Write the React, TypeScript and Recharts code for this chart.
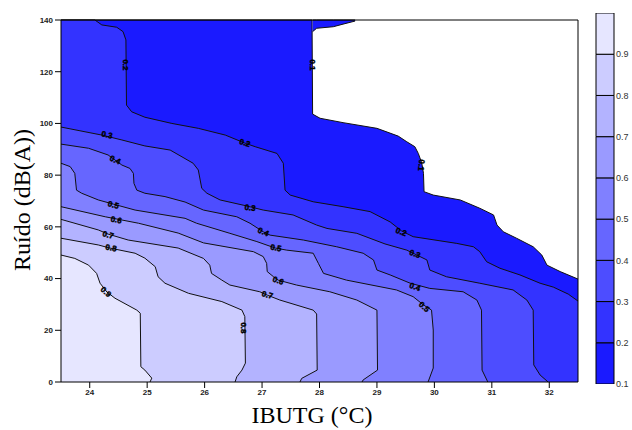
import { ComposedChart, Area, Scatter, XAxis, YAxis, BarChart, Bar } from "recharts";

// contour levels and the fill of the band just above each level
const levels = [0.1, 0.2, 0.3, 0.4, 0.5, 0.6, 0.7, 0.8, 0.9, 1.0];
const bandColors = ["#1a1aff", "#3333ff", "#4d4dff", "#6666ff", "#8080ff", "#9a9aff", "#b3b3ff", "#ccccff", "#e6e6ff"];

const xTicks = [24, 25, 26, 27, 28, 29, 30, 31, 32];
const yTicks = [0, 20, 40, 60, 80, 100, 120, 140];

// contour lines, [IBUTG, ruído]
const c01 = [
  [23.5, 140], [27.87, 140], [27.88, 103.6], [28.01, 102.0], [28.41, 100.3], [29.0, 98.1], [29.37, 95.1],
  [29.52, 92.9], [29.66, 91.0], [29.72, 88.4], [29.78, 84.7], [29.81, 80.7], [29.82, 73.6], [29.98, 72.3],
  [30.45, 70.4], [30.79, 67.2], [31.03, 64.6], [31.09, 60.7], [31.2, 58.1], [31.43, 55.6], [31.72, 52.3],
  [31.87, 49.1], [31.96, 45.2], [32.19, 42.7], [32.5, 39.8],
];
const c02 = [
  [23.5, 140], [24.09, 140], [24.21, 138.1], [24.47, 137.2], [24.58, 135.5], [24.63, 132.3], [24.64, 107.1],
  [24.73, 104.5], [24.96, 102.4], [25.43, 100.0], [25.89, 98.1], [26.36, 95.5], [26.7, 92.4], [26.88, 91.0],
  [27.26, 88.4], [27.37, 84.6], [27.4, 74.2], [27.49, 72.3], [27.89, 69.7], [28.41, 67.8], [28.88, 65.9],
  [29.23, 61.9], [29.43, 58.4], [29.63, 56.2], [30.39, 53.6], [30.68, 52.3], [30.79, 50.4], [30.91, 46.5],
  [31.14, 44.0], [31.49, 41.4], [31.84, 38.2], [32.07, 36.7], [32.33, 34.0], [32.5, 31.3],
];
const c03 = [
  [23.5, 98.6], [24.21, 95.5], [24.56, 93.6], [24.96, 91.3], [25.4, 89.7], [25.8, 84.6], [25.89, 82.0],
  [25.95, 74.9], [26.04, 73.0], [26.27, 70.4], [26.67, 68.4], [27.02, 66.5], [27.54, 64.6], [27.95, 60.7],
  [28.13, 59.4], [28.65, 57.5], [29.14, 53.4], [29.52, 51.0], [29.87, 47.2], [29.92, 43.3], [30.21, 40.7],
  [30.79, 38.2], [31.37, 35.6], [31.61, 31.7], [31.72, 27.8], [31.73, 6.6], [31.84, 2.7], [31.98, 0],
];
const c04 = [
  [23.5, 92.0], [23.98, 90.4], [24.32, 87.8], [24.56, 83.9], [24.7, 82.6], [24.76, 80.7], [24.77, 76.8],
  [24.82, 74.2], [24.96, 73.0], [25.31, 71.7], [25.66, 69.6], [25.98, 66.5], [26.56, 63.9], [26.79, 61.4],
  [27.02, 58.1], [27.14, 56.8], [27.72, 54.9], [28.3, 52.3], [28.76, 49.8], [28.94, 47.2], [29.0, 43.3],
  [29.23, 41.4], [29.58, 38.2], [29.92, 36.2], [30.5, 34.9], [30.74, 31.7], [30.82, 27.8], [30.83, 4.6],
  [30.93, 0],
];
const c05 = [
  [23.5, 84.6], [23.66, 83.3], [23.74, 80.7], [23.77, 74.2], [23.86, 73.0], [24.15, 70.4], [24.41, 68.8],
  [24.79, 66.5], [25.66, 63.3], [25.86, 61.4], [26.44, 57.5], [26.91, 54.3], [27.23, 51.8], [27.43, 51.0],
  [27.89, 49.8], [27.98, 45.9], [28.07, 42.0], [28.47, 39.4], [29.34, 35.6], [29.63, 33.0], [29.81, 29.8],
  [29.95, 27.8], [29.98, 20.1], [29.98, 5.4], [29.89, 0],
];
const c06 = [
  [23.5, 67.8], [24.27, 63.9], [24.85, 61.4], [25.54, 57.6], [25.98, 53.8], [26.85, 50.4], [27.02, 48.5],
  [27.08, 45.9], [27.09, 42.7], [27.2, 40.7], [27.28, 39.4], [27.6, 37.5], [28.18, 34.9], [28.65, 31.7],
  [29.0, 27.8], [29.01, 4.6], [28.76, 0.8], [28.74, 0],
];
const c07 = [
  [23.5, 62.9], [24.15, 58.8], [24.32, 57.2], [24.67, 54.9], [25.54, 51.8], [25.98, 47.8], [26.09, 45.2],
  [26.12, 42.0], [26.3, 39.4], [26.44, 37.5], [26.96, 34.9], [27.09, 33.6], [27.31, 31.7], [27.89, 27.8],
  [27.95, 26.3], [27.96, 4.6], [27.69, 1.4], [27.66, 0],
];
const c08 = [
  [23.5, 55.6], [24.15, 53.0], [24.35, 51.8], [24.79, 49.8], [24.96, 47.9], [25.14, 44.6], [25.19, 40.7],
  [25.31, 38.2], [25.72, 34.3], [26.3, 31.1], [26.65, 27.8], [26.7, 25.3], [26.71, 7.3], [26.65, 4.6],
  [26.56, 2.0], [26.53, 0],
];
const c09 = [
  [23.5, 49.1], [23.74, 47.8], [23.98, 45.2], [24.12, 42.0], [24.18, 38.2], [24.3, 34.8], [24.44, 32.4],
  [24.82, 27.8], [24.88, 26.6], [24.89, 5.9], [24.96, 4.6], [25.08, 1.5], [25.05, 0],
];
const contours = [c01, c02, c03, c04, c05, c06, c07, c08, c09];

// thin strip of the 0.1 band along the top edge
const topStrip = [
  [27.88, 135.5], [27.95, 136.8], [28.24, 137.4], [28.41, 138.4], [28.62, 139.6],
];

const contourLabels = [
  { x: 24.63, y: 122.6, text: "0.2", angle: 90 },
  { x: 27.88, y: 122.6, text: "0.1", angle: 90 },
  { x: 24.3, y: 95.5, text: "0.3", angle: 12 },
  { x: 26.7, y: 92.4, text: "0.2", angle: 18 },
  { x: 24.44, y: 85.8, text: "0.4", angle: 25 },
  { x: 29.77, y: 83.9, text: "0.1", angle: 95 },
  { x: 24.41, y: 68.4, text: "0.5", angle: 15 },
  { x: 26.79, y: 67.3, text: "0.3", angle: 8 },
  { x: 24.46, y: 62.6, text: "0.6", angle: 12 },
  { x: 27.02, y: 58.0, text: "0.4", angle: 25 },
  { x: 24.32, y: 56.8, text: "0.7", angle: 15 },
  { x: 29.42, y: 58.0, text: "0.2", angle: 20 },
  { x: 24.37, y: 51.8, text: "0.8", angle: 10 },
  { x: 27.24, y: 51.8, text: "0.5", angle: 10 },
  { x: 29.66, y: 49.5, text: "0.3", angle: 20 },
  { x: 27.28, y: 39.1, text: "0.6", angle: 20 },
  { x: 29.66, y: 36.7, text: "0.4", angle: 20 },
  { x: 27.09, y: 33.6, text: "0.7", angle: 15 },
  { x: 24.28, y: 34.8, text: "0.9", angle: 40 },
  { x: 29.82, y: 29.0, text: "0.5", angle: 40 },
  { x: 26.67, y: 20.9, text: "0.8", angle: 90 },
];

const toPts = (arr: number[][]) => arr.map(([x, y]) => ({ x, y }));
const stripPts = topStrip.map(([x, y]) => ({ x, y: [y, 140] }));

const tickStyle = { fontSize: 8, fontWeight: "bold", fill: "#222", fontFamily: "Liberation Sans, Arial, sans-serif" };

const renderLabel = (props: any) => {
  const { cx, cy, payload } = props;
  return (
    <text
      x={cx}
      y={cy}
      transform={`rotate(${payload.angle} ${cx} ${cy})`}
      textAnchor="middle"
      dominantBaseline="central"
      fontSize={8}
      fontWeight="bold"
      fontFamily="Liberation Sans, Arial, sans-serif"
      fill="#000"
      stroke="#000"
      strokeWidth={0.4}
    >
      {payload.text}
    </text>
  );
};

// colour bar: one stacked column, transparent base up to 0.1
const cbRow: Record<string, any> = { name: "cb", base: levels[0] };
bandColors.forEach((_, i) => {
  cbRow["s" + i] = +(levels[i + 1] - levels[i]).toFixed(2);
});
const cbData = [cbRow];

export default function App() {
  return (
    <div style={{ position: "absolute", left: 0, top: 0, width: 632, height: 430, background: "#fff" }}>
      <div style={{ position: "absolute", left: 0, top: 0 }}>
        <ComposedChart width={590} height={430} margin={{ top: 0, right: 0, bottom: 0, left: 0 }}>
          <XAxis
            dataKey="x"
            type="number"
            domain={[23.5, 32.5]}
            ticks={xTicks}
            height={48}
            tick={tickStyle}
            tickSize={6}
            tickMargin={1}
            axisLine={{ stroke: "#000" }}
            tickLine={{ stroke: "#000" }}
          />
          <XAxis
            xAxisId="top"
            orientation="top"
            type="number"
            domain={[23.5, 32.5]}
            ticks={xTicks}
            height={20}
            tickSize={6}
            tickFormatter={() => ""}
            axisLine={{ stroke: "#000" }}
            tickLine={{ stroke: "#000" }}
          />
          <YAxis
            type="number"
            domain={[0, 140]}
            ticks={yTicks}
            width={61}
            tick={tickStyle}
            tickSize={6}
            tickMargin={2}
            axisLine={{ stroke: "#000" }}
            tickLine={{ stroke: "#000" }}
          />
          <YAxis
            yAxisId="right"
            orientation="right"
            type="number"
            domain={[0, 140]}
            ticks={yTicks}
            width={12}
            tickSize={6}
            tickFormatter={() => ""}
            axisLine={{ stroke: "#000" }}
            tickLine={{ stroke: "#000" }}
          />
          {contours.map((c, i) => (
            <Area
              key={"c" + i}
              data={toPts(c)}
              dataKey="y"
              type="linear"
              fill={bandColors[i]}
              fillOpacity={1}
              stroke="#111"
              strokeWidth={1}
              dot={false}
              activeDot={false}
              isAnimationActive={false}
            />
          ))}
          <Area
            data={stripPts}
            dataKey="y"
            type="linear"
            fill={bandColors[0]}
            fillOpacity={1}
            stroke="#111"
            strokeWidth={1}
            dot={false}
            activeDot={false}
            isAnimationActive={false}
          />
          <Scatter data={contourLabels} dataKey="y" shape={renderLabel} isAnimationActive={false} />
        </ComposedChart>
      </div>
      <div style={{ position: "absolute", left: 590, top: 0 }}>
        <BarChart width={42} height={430} data={cbData} margin={{ top: 13, right: 0, bottom: 46, left: 6 }} barCategoryGap={0}>
          <XAxis dataKey="name" hide />
          <YAxis
            orientation="right"
            type="number"
            domain={[0.1, 1]}
            allowDataOverflow
            ticks={levels.slice(0, 9)}
            width={18}
            axisLine={false}
            tickLine={false}
            tickSize={0}
            tickMargin={2}
            tickFormatter={(v: number) => v.toFixed(1)}
            tick={{ fontSize: 9, fill: "#333", fontFamily: "Liberation Sans, Arial, sans-serif" }}
          />
          <Bar dataKey="base" stackId="a" fill="none" isAnimationActive={false} />
          {bandColors.map((col, i) => (
            <Bar key={"s" + i} dataKey={"s" + i} stackId="a" fill={col} stroke="#000" strokeWidth={1} isAnimationActive={false} />
          ))}
        </BarChart>
      </div>
      <div
        style={{
          position: "absolute",
          left: 312,
          top: 403,
          transform: "translateX(-50%)",
          fontFamily: '"Liberation Serif", "Times New Roman", serif',
          fontSize: 24,
          lineHeight: "24px",
          whiteSpace: "nowrap",
          color: "#000",
        }}
      >
        IBUTG (°C)
      </div>
      <div
        style={{
          position: "absolute",
          left: 22,
          top: 200,
          transform: "translate(-50%, -50%) rotate(-90deg)",
          fontFamily: '"Liberation Serif", "Times New Roman", serif',
          fontSize: 24,
          lineHeight: "24px",
          whiteSpace: "nowrap",
          color: "#000",
        }}
      >
        Ruído (dB(A))
      </div>
    </div>
  );
}
